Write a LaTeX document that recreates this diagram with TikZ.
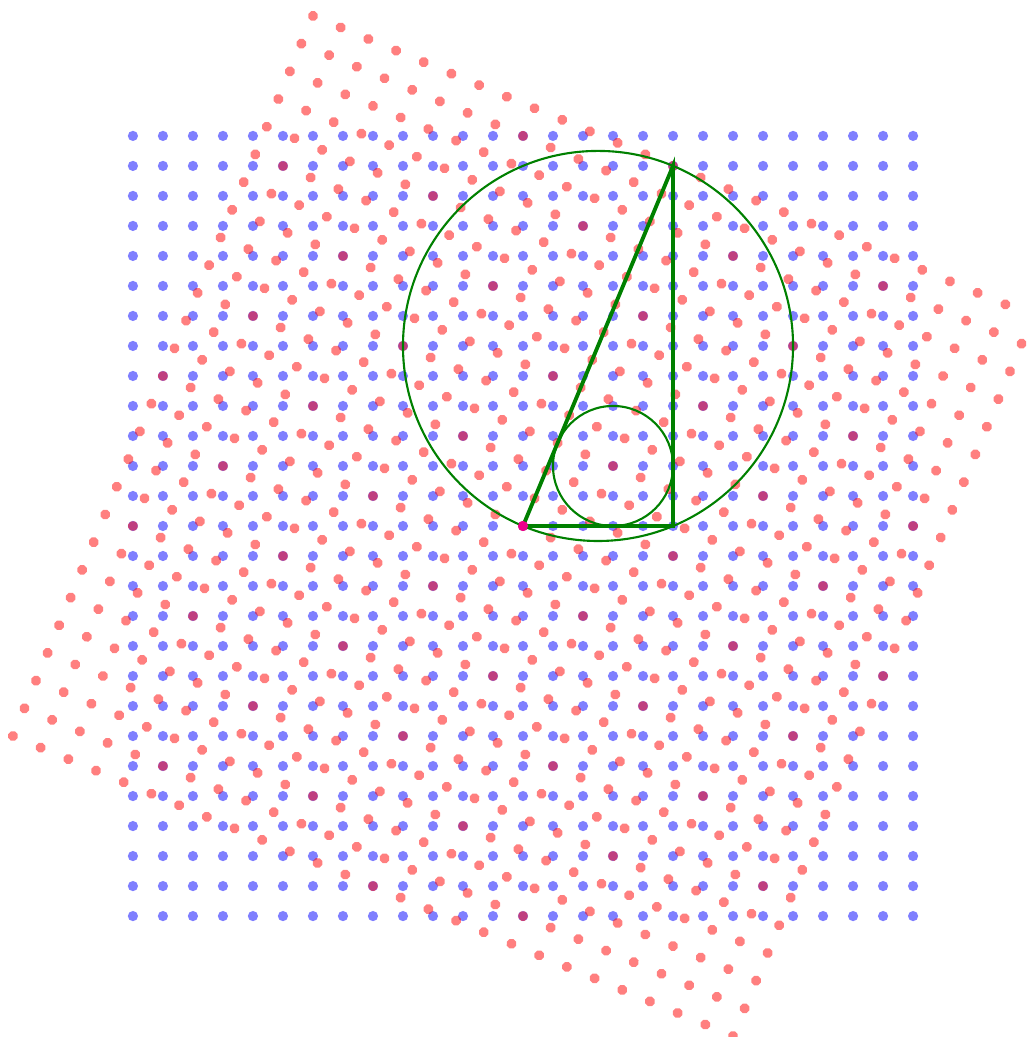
\documentclass[tikz,border=0pt]{standalone}
\usepackage{tikz}

\tikzset{
  bluedot/.style={fill=blue, opacity=0.5},
  reddot/.style={fill=red, opacity=0.5},
  legline/.style={draw=green!50!black, line width=1.1pt},
  ringline/.style={draw=green!50!black, line width=0.6pt}
}

\begin{document}
\begin{tikzpicture}[scale=0.3]
            \useasboundingbox (-17.43,-17.03) rectangle (16.8,17.53);

            % square lattice
            \foreach \i in {-13,...,13}
                \foreach \j in {-13,...,13}
                    \fill[bluedot] (\i,\j) circle (0.17);

            % rotated lattice (5-12-13)
            \begin{scope}[rotate=-22.6199]
                \foreach \i in {-13,...,13}
                    \foreach \j in {-13,...,13}
                        \fill[reddot] (\i,\j) circle (0.17);
            \end{scope}

            \coordinate (O) at (0,0);
            \coordinate (A) at (5,0);
            \coordinate (B) at (5,12);
            \coordinate (M) at (2.5,6);
            \coordinate (I) at (3,2);

            \draw[ringline] (M) circle (6.5);
            \draw[ringline] (I) circle (2);
            \draw[legline] (O) -- (A) -- (B) -- cycle;
            \fill[magenta] (O) circle (0.17);
        \end{tikzpicture}
\end{document}
